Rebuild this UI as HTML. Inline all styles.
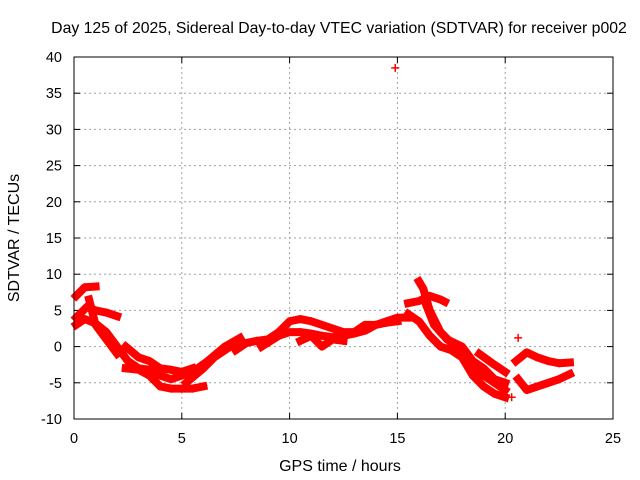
<!DOCTYPE html>
<html><head><meta charset="utf-8"><style>
body{margin:0;background:#fff;}
svg{display:block;font-family:"Liberation Sans",sans-serif;}
</style></head><body>
<svg id="chart" width="640" height="480" viewBox="0 0 640 480" xmlns="http://www.w3.org/2000/svg">
<rect width="640" height="480" fill="#fff"/>
<text x="339" y="33" font-size="15.8" text-anchor="middle">Day 125 of 2025, Sidereal Day-to-day VTEC variation (SDTVAR) for receiver p002</text>
<g id="grid"></g>
<g id="ticks"></g>
<g id="marks"></g>
<rect x="74" y="57" width="539" height="362" fill="none" stroke="#000" stroke-width="1"/>
<text x="340" y="471" font-size="16" text-anchor="middle">GPS time / hours</text>
<text transform="translate(19,238) rotate(-90)" font-size="16" text-anchor="middle">SDTVAR / TECUs</text>
</svg>
<script>
const xTicks=[0,5,10,15,20,25];
const yTicks=[-10,-5,0,5,10,15,20,25,30,35,40];
const tracks=[
[[0.1,7],[0.5,8.2],[1.0,8.3]],
[[0.1,4],[0.6,5.5],[1.0,5],[1.5,4.7],[2.0,4.2]],
[[0.1,3],[0.5,3.8],[1.0,3.2],[1.5,2],[2.0,0],[2.5,-2],[3.0,-3],[3.5,-3.2],[4.0,-4],[4.5,-4.5],[5.5,-3.5],[6.2,-2],[7.0,0],[7.7,1.2]],
[[0.7,6.5],[1.0,3],[1.5,1],[2.0,-1]],
[[2.4,0],[3.0,-1.5],[3.5,-2],[4.0,-3],[4.5,-3.2],[5.0,-3.5],[5.5,-3]],
[[2.4,-3],[3.0,-3.2],[3.5,-4],[4.0,-5.5],[4.5,-5.8],[5.0,-5.8],[5.5,-5.8],[6.0,-5.5]],
[[5.2,-5],[6.0,-3],[6.5,-1.5],[7.0,-0.5],[7.5,0.5]],
[[7.5,-0.5],[8,0.5],[8.5,0.8],[9,1],[9.5,2],[10,3.5],[10.5,3.8],[11,3.5],[11.5,3],[12,2.5],[12.5,2],[13,2],[13.5,3],[14,3],[14.5,3.5],[15,4],[15.5,4]],
[[8.7,0],[9.5,1.5],[10,2],[10.5,2],[11,1.8],[11.5,1.5],[12,1.3],[12.5,1.5],[13,1.8],[13.5,2.2],[14,3],[14.5,3.3],[15,3.5]],
[[10.5,0.8],[11,1.5],[11.5,0],[12,1],[12.5,0.8]],
[[15.5,6],[16,6.3],[16.5,7],[17,6.5],[17.2,6.2]],
[[16,9],[16.2,8],[16.5,5],[17,2],[17.5,0.5],[18,-1],[18.5,-3],[19,-4],[19.5,-5],[20,-6]],
[[15.5,4.5],[16,3.5],[16.5,1.5],[17,0],[17.5,-0.5],[18,-1.5],[18.5,-4],[19,-5.5],[19.5,-6.5],[20,-7]],
[[16.3,6],[16.7,3],[17.3,1],[18,0],[18.5,-2],[19,-3],[19.5,-4.5],[20,-5]],
[[18.8,-1],[19.5,-2.5],[20,-3.5]],
[[20.5,-2],[21,-0.8],[21.5,-1.5],[22,-2],[22.5,-2.3],[23,-2.2]],
[[20.6,-4.5],[21,-6],[21.5,-5.5],[22,-5],[22.5,-4.5],[23,-3.8]]
];
const singles=[[20.6,1.2],[14.9,38.5],[18.8,-1],[20.3,-7]];
const NS="http://www.w3.org/2000/svg";
const X=h=>74+h*539/25;
const Y=v=>419-(v+10)*362/50;
function mk(t,a,p){const e=document.createElementNS(NS,t);for(const k in a)e.setAttribute(k,a[k]);p.appendChild(e);return e;}
const grid=document.getElementById('grid'),ticks=document.getElementById('ticks'),marks=document.getElementById('marks');
xTicks.forEach(t=>{const x=X(t);
 if(t>0&&t<25){const g=mk('line',{x1:x,x2:x,y1:57,y2:419,stroke:'#a0a0a0','stroke-dasharray':'2,3'},grid);}
 mk('line',{x1:x,x2:x,y1:419,y2:413,stroke:'#000'},ticks);mk('line',{x1:x,x2:x,y1:57,y2:63,stroke:'#000'},ticks);
 const l=mk('text',{x:x,y:443,'font-size':14.5,'text-anchor':'middle'},ticks);l.textContent=t;
 });
yTicks.forEach(t=>{const y=Y(t);
 if(t>-10&&t<40){const g=mk('line',{x1:74,x2:613,y1:y,y2:y,stroke:'#a0a0a0','stroke-dasharray':'2,3'},grid);}
 mk('line',{x1:74,x2:80,y1:y,y2:y,stroke:'#000'},ticks);mk('line',{x1:613,x2:607,y1:y,y2:y,stroke:'#000'},ticks);
 const l=mk('text',{x:62,y:y+5,'font-size':14.5,'text-anchor':'end'},ticks);l.textContent=t;
 });
function plus(h,v){const x=X(h),y=Y(v);
 const p=mk('path',{d:`M${x-4},${y}h8M${x},${y-4}v8`,stroke:'#f00','stroke-width':1.5},marks);
 }
tracks.forEach(tr=>{
 const l=mk('polyline',{points:tr.map(p=>X(p[0])+','+Y(p[1])).join(' '),fill:'none',stroke:'#f00','stroke-width':8,'stroke-linejoin':'round','stroke-linecap':'square'},marks);
 
 tr.forEach(p=>plus(p[0],p[1]));});
singles.forEach(p=>plus(p[0],p[1]));
</script>
</body></html>
